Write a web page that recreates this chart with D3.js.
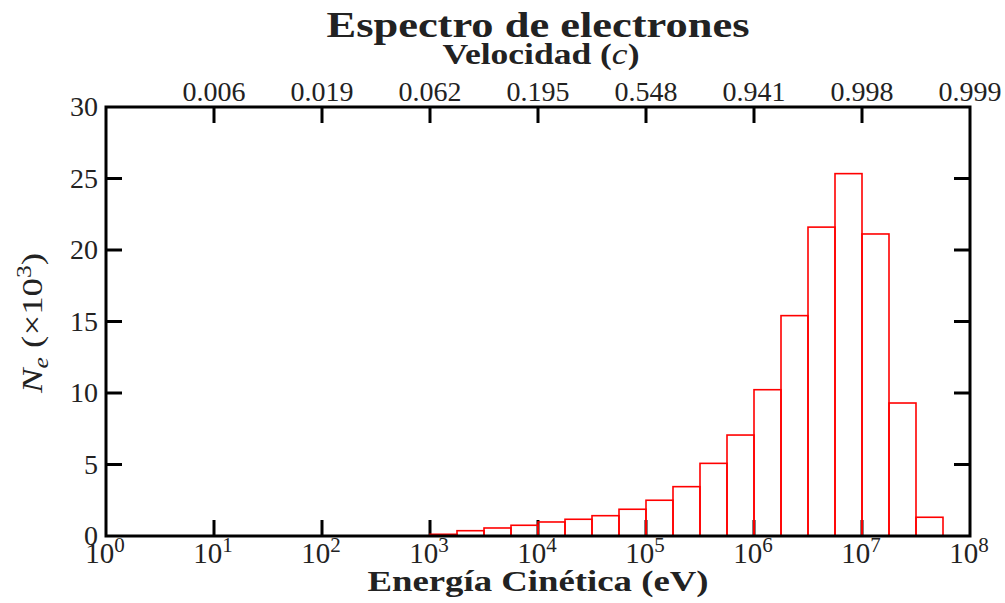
<!DOCTYPE html>
<html>
<head>
<meta charset="utf-8">
<script src="https://cdn.jsdelivr.net/npm/d3@7"></script>
<style>
  html, body { margin: 0; padding: 0; background: #fff; }
  svg { display: block; }
  text { font-family: "Liberation Serif", "Times New Roman", serif; fill: #222; }
</style>
</head>
<body>
<svg id="chart" width="1005" height="603"></svg>
<script>
// Histogram bins: start exponent (log10 of eV) of each quarter-decade bin
const binStartExp = [3, 3.25, 3.5, 3.75, 4, 4.25, 4.5, 4.75, 5, 5.25, 5.5, 5.75,
                     6, 6.25, 6.5, 6.75, 7, 7.25, 7.5];
const binWidthExp = 0.25;
// Electron counts per bin (×10^3)
const counts = [0.12, 0.37, 0.56, 0.75, 0.98, 1.17, 1.42, 1.87, 2.5, 3.45, 5.08, 7.06,
                10.23, 15.41, 21.6, 25.34, 21.12, 9.30, 1.31];

// Bottom axis: kinetic energy decades
const energyTickExp = [0, 1, 2, 3, 4, 5, 6, 7, 8];
// Top axis: electron speed (fraction of c) at each decade of energy
const velocityTickExp = [1, 2, 3, 4, 5, 6, 7, 8];
const velocityLabels = ["0.006", "0.019", "0.062", "0.195", "0.548", "0.941", "0.998", "0.999"];
// Left axis ticks
const countTicks = [0, 5, 10, 15, 20, 25, 30];

const svg = d3.select("#chart");
const m = { left: 106, right: 970, top: 107, bottom: 536 };

const x = d3.scaleLog().domain([1, 1e8]).range([m.left, m.right]);
const y = d3.scaleLinear().domain([0, 30]).range([m.bottom, m.top]);
const tickLen = 16;

// Inner tick marks on all four sides
const ticks = svg.append("g").attr("stroke", "#000").attr("stroke-width", 3);
energyTickExp.slice(1, -1).forEach(e => {
  const px = x(Math.pow(10, e));
  ticks.append("line").attr("x1", px).attr("x2", px)
    .attr("y1", m.bottom).attr("y2", m.bottom - tickLen);
  ticks.append("line").attr("x1", px).attr("x2", px)
    .attr("y1", m.top).attr("y2", m.top + tickLen);
});
countTicks.slice(1, -1).forEach(v => {
  const py = y(v);
  ticks.append("line").attr("x1", m.left).attr("x2", m.left + tickLen)
    .attr("y1", py).attr("y2", py);
  ticks.append("line").attr("x1", m.right).attr("x2", m.right - tickLen)
    .attr("y1", py).attr("y2", py);
});

// Histogram bars
svg.append("g").selectAll("rect")
  .data(binStartExp.map((e, i) => ({ e, v: counts[i] })))
  .join("rect")
  .attr("x", d => x(Math.pow(10, d.e)))
  .attr("width", d => x(Math.pow(10, d.e + binWidthExp)) - x(Math.pow(10, d.e)))
  .attr("y", d => y(d.v))
  .attr("height", d => y(0) - y(d.v))
  .attr("fill", "none")
  .attr("stroke", "#ff0000")
  .attr("stroke-width", 1.6);

// Plot frame
svg.append("rect")
  .attr("x", m.left).attr("y", m.top)
  .attr("width", m.right - m.left).attr("height", m.bottom - m.top)
  .attr("fill", "none").attr("stroke", "#000").attr("stroke-width", 3);

// Bottom tick labels 10^n
const bl = svg.append("g").attr("font-size", 29).attr("text-anchor", "middle");
energyTickExp.forEach(e => {
  const t = bl.append("text").attr("x", x(Math.pow(10, e)) - 1).attr("y", 563);
  t.append("tspan").text("10");
  t.append("tspan").attr("dy", -11).attr("font-size", 21).text(e);
});

// Top tick labels (velocity)
svg.append("g").attr("font-size", 28).attr("text-anchor", "middle")
  .selectAll("text").data(velocityTickExp.map((e, i) => ({ e, l: velocityLabels[i] })))
  .join("text")
  .attr("x", d => x(Math.pow(10, d.e)))
  .attr("y", 101)
  .text(d => d.l);

// Left tick labels
svg.append("g").attr("font-size", 28).attr("text-anchor", "end")
  .selectAll("text").data(countTicks).join("text")
  .attr("x", 98)
  .attr("y", d => y(d) + 9)
  .text(d => d);

// Title and axis titles
svg.append("text").attr("x", 538).attr("y", 37).attr("text-anchor", "middle")
  .attr("font-size", 36).attr("font-weight", "bold")
  .attr("textLength", 423).attr("lengthAdjust", "spacingAndGlyphs")
  .text("Espectro de electrones");

const vt = svg.append("text").attr("x", 541).attr("y", 64).attr("text-anchor", "middle")
  .attr("font-size", 29).attr("font-weight", "bold")
  .attr("textLength", 197).attr("lengthAdjust", "spacingAndGlyphs");
vt.append("tspan").text("Velocidad (");
vt.append("tspan").attr("font-style", "italic").attr("font-weight", "normal").text("c");
vt.append("tspan").text(")");

svg.append("text").attr("x", 538).attr("y", 591).attr("text-anchor", "middle")
  .attr("font-size", 30).attr("font-weight", "bold")
  .attr("textLength", 341).attr("lengthAdjust", "spacingAndGlyphs")
  .text("Energía Cinética (eV)");

const yl = svg.append("text").attr("transform", "translate(42,323) rotate(-90)")
  .attr("text-anchor", "middle").attr("font-size", 29)
  .attr("textLength", 140).attr("lengthAdjust", "spacingAndGlyphs");
yl.append("tspan").attr("font-style", "italic").text("N");
yl.append("tspan").attr("font-style", "italic").attr("font-size", 20).attr("dy", 6).text("e");
yl.append("tspan").attr("dy", -6).text(" (×10");
yl.append("tspan").attr("font-size", 20).attr("dy", -11).text("3");
yl.append("tspan").attr("dy", 11).text(")");
</script>
</body>
</html>
